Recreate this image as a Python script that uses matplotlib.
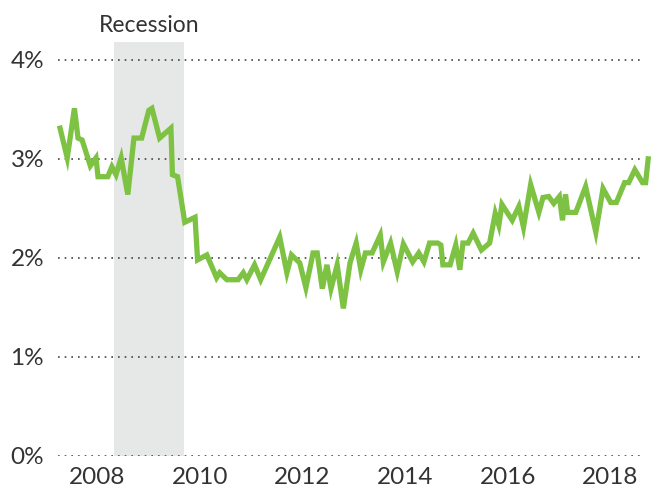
import matplotlib
matplotlib.use("Agg")
import matplotlib.pyplot as plt

# traced series (decimal year, percent)
years = [2007.28, 2007.42, 2007.56, 2007.63, 2007.71, 2007.87, 2007.98, 2008.02,
         2008.21, 2008.29, 2008.37, 2008.47, 2008.60, 2008.72, 2008.87, 2009.01,
         2009.07, 2009.22, 2009.44, 2009.47, 2009.57, 2009.71, 2009.91, 2009.96,
         2010.14, 2010.33, 2010.39, 2010.53, 2010.75, 2010.85, 2010.92, 2011.07,
         2011.19, 2011.56, 2011.70, 2011.79, 2011.95, 2012.07, 2012.21, 2012.29,
         2012.39, 2012.48, 2012.56, 2012.68, 2012.80, 2012.93, 2013.05, 2013.14,
         2013.23, 2013.36, 2013.52, 2013.58, 2013.72, 2013.85, 2013.97, 2014.15,
         2014.27, 2014.37, 2014.48, 2014.64, 2014.70, 2014.74, 2014.88, 2014.99,
         2015.07, 2015.13, 2015.23, 2015.33, 2015.49, 2015.65, 2015.76, 2015.83,
         2015.89, 2016.09, 2016.22, 2016.31, 2016.45, 2016.61, 2016.69, 2016.80,
         2016.90, 2017.01, 2017.07, 2017.13, 2017.17, 2017.33, 2017.52, 2017.72,
         2017.86, 2018.01, 2018.12, 2018.28, 2018.36, 2018.48, 2018.63, 2018.69,
         2018.74]
rate = [3.31, 3.01, 3.51, 3.21, 3.19, 2.93, 3.01, 2.82,
        2.82, 2.92, 2.84, 3.01, 2.64, 3.21, 3.21, 3.49,
        3.51, 3.21, 3.31, 2.84, 2.82, 2.36, 2.41, 1.98,
        2.03, 1.80, 1.85, 1.78, 1.78, 1.85, 1.78, 1.93,
        1.78, 2.21, 1.85, 2.03, 1.95, 1.70, 2.05, 2.05,
        1.69, 1.93, 1.69, 1.93, 1.49, 1.95, 2.15, 1.88,
        2.05, 2.05, 2.23, 1.96, 2.15, 1.86, 2.14, 1.96,
        2.05, 1.96, 2.15, 2.15, 2.13, 1.93, 1.93, 2.13,
        1.88, 2.15, 2.15, 2.25, 2.08, 2.15, 2.45, 2.33,
        2.54, 2.38, 2.52, 2.31, 2.74, 2.46, 2.61, 2.62,
        2.55, 2.62, 2.38, 2.64, 2.46, 2.46, 2.72, 2.26,
        2.70, 2.56, 2.56, 2.76, 2.76, 2.89, 2.76, 2.76,
        3.00]

recession = (2008.33, 2009.70)
xticks = [2008, 2010, 2012, 2014, 2016, 2018]
yticks = [0, 1, 2, 3, 4]

W, H = 651, 493
fig = plt.figure(figsize=(W / 100, H / 100), dpi=100)
ax = fig.add_axes([58 / W, 1 - 456 / H, (641 - 58) / W, (456 - 42) / H])

# recession band + series
ax.axvspan(*recession, color="#e6e7e7", lw=0, zorder=0)
ax.plot(years, rate, color="#7dc242", lw=3.8, solid_joinstyle="miter",
        clip_on=False, zorder=3)

ax.set_xlim(2007.24, 2018.60)
ax.set_ylim(0, 4.18)
ax.set_xticks(xticks)
ax.set_xticklabels([str(y) for y in xticks])
ax.set_yticks(yticks)
ax.set_yticklabels([f"{y}%" for y in yticks])

ax.grid(axis="y", color="#444444", linestyle=(0, (1, 3)), linewidth=1.2)
ax.grid(axis="x", visible=False)
for s in ax.spines.values():
    s.set_visible(False)
ax.tick_params(length=0, labelsize=17.5, labelcolor="#333333")
ax.tick_params(axis="y", pad=10)
ax.tick_params(axis="x", pad=8)
for lab in ax.get_xticklabels() + ax.get_yticklabels():
    lab.set_family("Lato")

ax.text(sum(recession) / 2, 1.015, "Recession", transform=ax.get_xaxis_transform(),
        ha="center", va="bottom", fontsize=16.5, color="#333333", family="Lato")

fig.savefig("out.png", dpi=100)
